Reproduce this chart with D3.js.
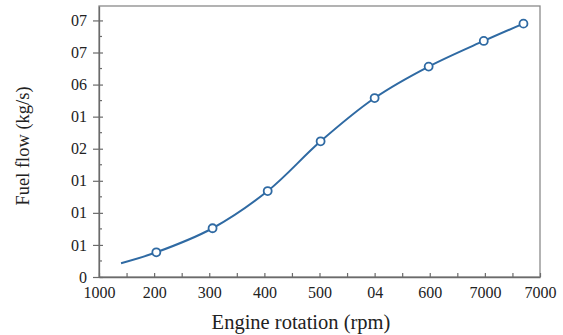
<!DOCTYPE html>
<html>
<head>
<meta charset="utf-8">
<script src="https://cdn.jsdelivr.net/npm/d3@7"></script>
<style>
  body { margin: 0; background: #fff; }
  svg { display: block; }
</style>
</head>
<body>
<svg id="chart"></svg>
<script>
// tick values and the (odd) labels printed on the original figure
const xTicks = [1000, 1500, 2000, 2500, 3000, 3500, 4000, 4500, 5000]
const xTickLabels = ["1000", "200", "300", "400", "500", "04", "600", "7000", "7000"]
const yTicks = [0, 1, 2, 3, 4, 5, 6, 7, 8]
const yTickLabels = ["0", "01", "01", "01", "02", "01", "06", "07", "07"]

// curve (first point has no marker)
const rpm = [1200, 1520, 2030, 2530, 3010, 3500, 3990, 4490, 4850]
const flow = [0.43, 0.77, 1.52, 2.68, 4.23, 5.58, 6.56, 7.36, 7.9]
const hasMarker = [false, true, true, true, true, true, true, true, true]

const width = 563, height = 335
const margin = { top: 6, right: 23, bottom: 58, left: 99 }

const svg = d3.select("#chart")
  .attr("width", width)
  .attr("height", height)

const x = d3.scaleLinear()
  .domain([1000, 5000])
  .range([margin.left, width - margin.right])

const y = d3.scaleLinear()
  .domain([0, 8.45])
  .range([height - margin.bottom, margin.top])

const frameColor = "#6b6b6b"
const font = "'Liberation Serif', 'Times New Roman', serif"

// frame
svg.append("rect")
  .attr("x", x(1000))
  .attr("y", y(8.45))
  .attr("width", x(5000) - x(1000))
  .attr("height", y(0) - y(8.45))
  .attr("fill", "none")
  .attr("stroke", "#8a8a8a")
  .attr("stroke-width", 1.3)

// x axis: all ticks pointing inward, labels on majors only
const xMinor = d3.range(1000, 5001, 250)
const xAxis = d3.axisBottom(x)
  .tickValues(xMinor)
  .tickSize(-4)
  .tickSizeOuter(0)
  .tickPadding(9.5)
  .tickFormat(d => {
    const i = xTicks.indexOf(d)
    return i >= 0 ? xTickLabels[i] : ""
  })

const gx = svg.append("g")
  .attr("transform", `translate(0,${y(0)})`)
  .call(xAxis)
gx.select(".domain").attr("stroke", frameColor).attr("stroke-width", 1.3)
gx.selectAll(".tick line").attr("stroke", frameColor).attr("stroke-width", 1.2)
gx.selectAll("text")
  .attr("font-family", font)
  .attr("font-size", 16)
  .attr("fill", "#222")

// y axis: major ticks cross the axis, minor ticks inside
const yAxis = d3.axisLeft(y)
  .tickValues(yTicks)
  .tickSize(6)
  .tickSizeOuter(0)
  .tickPadding(6)
  .tickFormat((d, i) => yTickLabels[i])

const gy = svg.append("g")
  .attr("transform", `translate(${x(1000)},0)`)
  .call(yAxis)
gy.select(".domain").attr("stroke", frameColor).attr("stroke-width", 1.3)
gy.selectAll(".tick line")
  .attr("x1", 4)
  .attr("stroke", frameColor)
  .attr("stroke-width", 1.2)
gy.selectAll("text")
  .attr("font-family", font)
  .attr("font-size", 16)
  .attr("fill", "#222")

const yMinor = d3.range(0.5, 8, 1)
gy.selectAll(".minor")
  .data(yMinor)
  .enter()
  .append("line")
  .attr("class", "minor")
  .attr("x1", 0)
  .attr("x2", 3)
  .attr("y1", d => y(d))
  .attr("y2", d => y(d))
  .attr("stroke", frameColor)
  .attr("stroke-width", 1.2)

// axis titles
svg.append("text")
  .attr("x", 301)
  .attr("y", 328.5)
  .attr("text-anchor", "middle")
  .attr("font-family", font)
  .attr("font-size", 20.5)
  .attr("fill", "#222")
  .text("Engine rotation (rpm)")

svg.append("text")
  .attr("transform", "translate(28.5,146) rotate(-90)")
  .attr("text-anchor", "middle")
  .attr("font-family", font)
  .attr("font-size", 18.5)
  .attr("fill", "#222")
  .text("Fuel flow  (kg/s)")

// curve
const points = rpm.map((r, i) => ({ r, f: flow[i], m: hasMarker[i] }))
const line = d3.line()
  .x(d => x(d.r))
  .y(d => y(d.f))
  .curve(d3.curveCatmullRom.alpha(0.5))

const lineColor = "#2f6aa3"
svg.append("path")
  .datum(points)
  .attr("d", line)
  .attr("fill", "none")
  .attr("stroke", lineColor)
  .attr("stroke-width", 2)

svg.selectAll(".pt")
  .data(points.filter(d => d.m))
  .enter()
  .append("circle")
  .attr("class", "pt")
  .attr("cx", d => x(d.r))
  .attr("cy", d => y(d.f))
  .attr("r", 4)
  .attr("fill", "#fff")
  .attr("stroke", lineColor)
  .attr("stroke-width", 1.8)
</script>
</body>
</html>
